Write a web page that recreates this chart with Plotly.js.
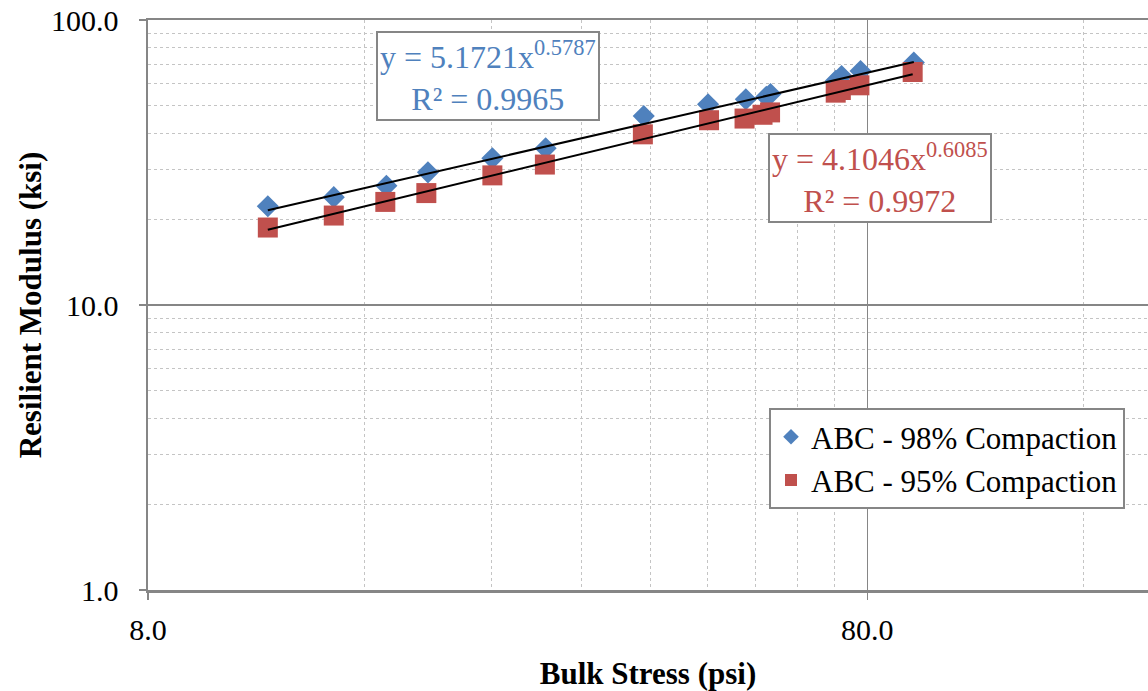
<!DOCTYPE html>
<html>
<head>
<meta charset="utf-8">
<script src="https://cdn.plot.ly/plotly-3.0.1.min.js"></script>
<style>
  html, body { margin: 0; padding: 0; background: #ffffff; }
  #chart { width: 1148px; height: 691px; }
</style>
</head>
<body>
<div id="chart"></div>
<script>
// Bulk stress (psi) and resilient modulus (ksi) for each compaction level
const bulk98 = [11.74, 14.50, 17.16, 19.60, 24.09, 28.57, 39.11, 48.05, 54.22, 57.9, 58.68, 72.33, 73.67, 78.28, 92.84];
const mr98   = [22.2, 23.9, 26.2, 29.2, 32.7, 35.5, 46.0, 50.6, 52.7, 53.8, 55.0, 61.2, 63.6, 66.2, 70.9];
const bulk95 = [11.74, 14.50, 17.10, 19.50, 24.09, 28.50, 39.00, 48.20, 54.00, 57.2, 58.6, 72.3, 73.5, 78.0, 92.5];
const mr95   = [18.7, 20.6, 23.0, 24.7, 28.5, 31.1, 39.7, 44.5, 45.1, 46.5, 47.4, 55.6, 56.8, 59.0, 65.7];

// Power-law trendlines (y = a * x^b) and their R² values
const fit98 = { a: 5.1721, b: 0.5787, r2: '0.9965' };
const fit95 = { a: 4.1046, b: 0.6085, r2: '0.9972' };

const seriesNames = ['ABC - 98% Compaction', 'ABC - 95% Compaction'];
const xTickVals = [8, 80];
const xTickText = ['8.0', '80.0'];
const xMinorVals = [16, 24, 32, 40, 48, 56, 64, 72, 160];
const yTickVals = [1, 10, 100];
const yTickText = ['1.0', '10.0', '100.0'];
const yMinorVals = [2, 3, 4, 5, 6, 7, 8, 9, 20, 30, 40, 50, 60, 70, 80, 90];

const BLUE = '#4F81BD';
const RED = '#C0504D';
const GRID = '#868686';
const FONT = '"Liberation Serif", "Times New Roman", serif';

function trend(xs, fit) {
  const lo = Math.min(...xs), hi = Math.max(...xs);
  return { x: [lo, hi], y: [fit.a * Math.pow(lo, fit.b), fit.a * Math.pow(hi, fit.b)] };
}
const t98 = trend(bulk98, fit98);
const t95 = trend(bulk95, fit95);

const traces = [
  { x: bulk98, y: mr98, mode: 'markers', type: 'scatter', name: seriesNames[0],
    marker: { symbol: 'diamond', size: 17, color: BLUE, line: { width: 0 } } },
  { x: bulk95, y: mr95, mode: 'markers', type: 'scatter', name: seriesNames[1],
    marker: { symbol: 'square', size: 20, color: RED, line: { width: 0 } } },
  { x: t98.x, y: t98.y, mode: 'lines', type: 'scatter', showlegend: false, hoverinfo: 'skip',
    line: { color: '#000000', width: 2 } },
  { x: t95.x, y: t95.y, mode: 'lines', type: 'scatter', showlegend: false, hoverinfo: 'skip',
    line: { color: '#000000', width: 2 } }
];

const xLo = Math.log10(8);
const yLo = 0, yHi = 2;

const layout = {
  width: 1148, height: 691,
  margin: { l: 148, r: 0, t: 20, b: 101 },
  paper_bgcolor: '#ffffff', plot_bgcolor: '#ffffff',
  font: { family: FONT, size: 30, color: '#000000' },
  showlegend: true,
  legend: {
    x: 0.621, y: 0.319, xanchor: 'left', yanchor: 'top',
    bgcolor: '#ffffff', bordercolor: GRID, borderwidth: 2,
    font: { family: FONT, size: 31, color: '#000000' },
    itemsizing: 'constant', tracegroupgap: 0, itemwidth: 30
  },
  xaxis: {
    type: 'log', range: [xLo, xLo + 1.3902],
    tickmode: 'array', tickvals: xTickVals, ticktext: xTickText,
    ticks: 'outside', ticklen: 7, tickwidth: 1.5, tickcolor: GRID,
    showgrid: true, gridcolor: GRID, gridwidth: 1.5,
    minor: { tickmode: 'array', tickvals: xMinorVals, showgrid: true,
             gridcolor: '#C4C4C4', gridwidth: 1, griddash: 'dot', ticks: '' },
    showline: true, linecolor: GRID, linewidth: 2.5, mirror: true,
    zeroline: false, automargin: false, ticklabelstandoff: 4,
    tickfont: { family: FONT, size: 30, color: '#000000' },
    title: { text: '<b>Bulk Stress (psi)</b>', standoff: 20,
             font: { family: FONT, size: 31, color: '#000000' } }
  },
  yaxis: {
    type: 'log', range: [yLo, yHi],
    tickmode: 'array', tickvals: yTickVals, ticktext: yTickText,
    ticks: 'outside', ticklen: 7, tickwidth: 1.5, tickcolor: GRID,
    showgrid: true, gridcolor: GRID, gridwidth: 1.5,
    minor: { tickmode: 'array', tickvals: yMinorVals, showgrid: true,
             gridcolor: '#C4C4C4', gridwidth: 1, griddash: 'dot', ticks: '' },
    showline: true, linecolor: GRID, linewidth: 2.5, mirror: true,
    zeroline: false, automargin: false, ticklabelstandoff: 14,
    tickfont: { family: FONT, size: 30, color: '#000000' },
    title: { text: '<b>Resilient Modulus (ksi)</b>', standoff: 0,
             font: { family: FONT, size: 31, color: '#000000' } }
  },
  annotations: [
    { xref: 'paper', yref: 'paper', x: 0.3397, y: 0.9026, xanchor: 'center', yanchor: 'middle',
      text: 'y = ' + fit98.a.toFixed(4) + 'x<sup>' + fit98.b.toFixed(4) + '</sup><br>R² = ' + fit98.r2,
      showarrow: false, align: 'center', bgcolor: '#ffffff', bordercolor: GRID, borderwidth: 2,
      borderpad: 2, font: { family: FONT, size: 32, color: BLUE } },
    { xref: 'paper', yref: 'paper', x: 0.7319, y: 0.7228, xanchor: 'center', yanchor: 'middle',
      text: 'y = ' + fit95.a.toFixed(4) + 'x<sup>' + fit95.b.toFixed(4) + '</sup><br>R² = ' + fit95.r2,
      showarrow: false, align: 'center', bgcolor: '#ffffff', bordercolor: GRID, borderwidth: 2,
      borderpad: 2, font: { family: FONT, size: 32, color: RED } }
  ]
};

Plotly.newPlot('chart', traces, layout, { staticPlot: true, displayModeBar: false });
</script>
</body>
</html>
